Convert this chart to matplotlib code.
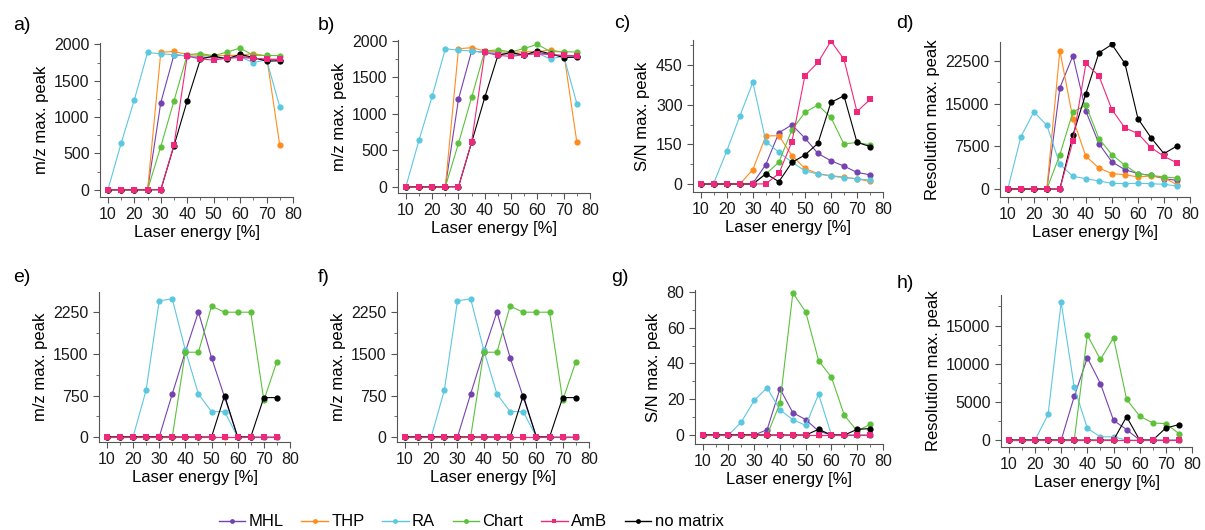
import numpy as np
import matplotlib
matplotlib.use('Agg')
import matplotlib.pyplot as plt
from matplotlib.lines import Line2D
from matplotlib.ticker import MultipleLocator, AutoMinorLocator

plt.rcParams['font.family'] = ['Liberation Sans', 'DejaVu Sans']

energy = [10, 15, 20, 25, 30, 35, 40, 45, 50, 55, 60, 65, 70, 75]

# panel a / b : m/z max. peak
mz1_mhl   = [0, 0, 0, 0, 1200, 1860, 1840, 1820, 1820, 1810, 1840, 1810, 1790, 1790]
mz1_thp   = [0, 0, 0, 0, 1890, 1905, 1860, 1850, 1840, 1850, 1850, 1875, 1840, 610]
mz1_ra    = [0, 640, 1240, 1890, 1870, 1860, 1840, 1830, 1820, 1810, 1830, 1750, 1790, 1140]
mz1_chart = [0, 0, 0, 0, 595, 1225, 1860, 1875, 1845, 1895, 1950, 1850, 1850, 1845]
mz1_none  = [0, 0, 0, 0, 0, 608, 1225, 1800, 1840, 1800, 1865, 1820, 1770, 1775]
mz1_amb   = [0, 0, 0, 0, 0, 620, 1840, 1800, 1785, 1810, 1820, 1810, 1800, 1795]

# panel c : S/N max. peak
sn1_mhl   = [0, 0, 0, 0, 3, 74, 194, 224, 174, 116, 88, 68, 44, 35]
sn1_thp   = [0, 0, 0, 0, 55, 182, 183, 108, 59, 39, 32, 26, 20, 10]
sn1_ra    = [0, 4, 126, 257, 385, 161, 120, 83, 50, 38, 30, 24, 20, 15]
sn1_chart = [0, 0, 0, 0, 0, 38, 83, 205, 271, 299, 252, 151, 158, 148]
sn1_none  = [0, 0, 0, 0, 0, 39, 9, 82, 110, 154, 309, 334, 158, 142]
sn1_amb   = [0, 0, 0, 0, 0, 1, 40, 160, 410, 460, 541, 472, 274, 320]

# panel d : Resolution max. peak
res1_mhl   = [0, 0, 0, 0, 17750, 23380, 13650, 7970, 4750, 3400, 2700, 2400, 1820, 1520]
res1_thp   = [0, 0, 0, 0, 24300, 12360, 5740, 3690, 2700, 2520, 2110, 2290, 1990, 760]
res1_ra    = [0, 9140, 13530, 11190, 4340, 2230, 1820, 1410, 1000, 940, 1000, 940, 820, 530]
res1_chart = [0, 0, 0, 0, 6030, 13530, 14710, 8850, 6030, 4160, 2640, 2400, 2110, 1930]
res1_none  = [0, 0, 0, 0, 0, 9430, 16760, 23900, 25370, 22030, 12360, 9020, 6210, 7560]
res1_amb   = [0, 0, 0, 0, 0, 8380, 22030, 19860, 13940, 10720, 9730, 7270, 5740, 4570]

# panel e / f : m/z max. peak
mz2_mhl   = [0, 0, 0, 0, 0, 778, 1540, 2260, 1435, 720, 0, 0, 0, 0]
mz2_thp   = [0, 0, 0, 0, 0, 0, 0, 0, 0, 0, 0, 0, 0, 0]
mz2_ra    = [0, 0, 0, 844, 2460, 2497, 1568, 778, 458, 458, 0, 0, 0, 0]
mz2_chart = [0, 0, 0, 0, 0, 0, 1532, 1532, 2364, 2255, 2255, 2255, 663, 1363]
mz2_none  = [0, 0, 0, 0, 0, 0, 0, 0, 0, 748, 0, 0, 712, 712]
mz2_amb   = [0, 0, 0, 0, 0, 0, 0, 0, 0, 0, 0, 0, 0, 0]

# panel g : S/N max. peak
sn2_mhl   = [0, 0, 0, 0, 0, 3, 25.8, 12.5, 8.6, 2.2, 0, 0, 0, 0]
sn2_thp   = [0, 0, 0, 0, 0, 0, 0, 0, 0, 0, 0, 0, 0, 0]
sn2_ra    = [0, 0, 0, 7.3, 19.3, 26.4, 14, 8.6, 5.4, 22.8, 0, 0, 0, 0]
sn2_chart = [0, 0, 0, 0, 0, 0, 17.8, 79.4, 68.7, 41.6, 32.2, 11, 2.2, 6]
sn2_none  = [0, 0, 0, 0, 0, 0, 0, 0, 0, 3.2, 0, 0, 3.2, 3.6]
sn2_amb   = [0, 0, 0, 0, 0, 0, 0, 0, 0, 0, 0, 0, 0, 0]

# panel h : Resolution max. peak
res2_mhl   = [0, 0, 0, 0, 0, 5730, 10780, 7410, 2590, 1380, 0, 0, 0, 0]
res2_thp   = [0, 0, 0, 0, 0, 0, 0, 0, 0, 0, 0, 0, 0, 0]
res2_ra    = [0, 0, 0, 3360, 18020, 6900, 1550, 430, 430, 0, 0, 0, 0, 0]
res2_chart = [0, 0, 0, 0, 0, 0, 13750, 10560, 13400, 5350, 3150, 2240, 2160, 860]
res2_none  = [0, 0, 0, 0, 0, 0, 0, 0, 0, 3060, 0, 0, 1590, 2030]
res2_amb   = [0, 0, 0, 0, 0, 0, 0, 0, 0, 0, 0, 0, 0, 0]

names   = ['MHL', 'THP', 'RA', 'Chart', 'AmB', 'no matrix']
colors  = ['#7443B0', '#FF8C1E', '#5CC8E0', '#5DC13C', '#F0287C', '#000000']
markers = ['o', 'o', 'o', 'o', 's', 'o']
# drawing order: MHL, THP, RA, Chart, no matrix, AmB (AmB on top)
order = [0, 1, 2, 3, 5, 4]

mz1 = [mz1_mhl, mz1_thp, mz1_ra, mz1_chart, mz1_amb, mz1_none]
sn1 = [sn1_mhl, sn1_thp, sn1_ra, sn1_chart, sn1_amb, sn1_none]
res1 = [res1_mhl, res1_thp, res1_ra, res1_chart, res1_amb, res1_none]
mz2 = [mz2_mhl, mz2_thp, mz2_ra, mz2_chart, mz2_amb, mz2_none]
sn2 = [sn2_mhl, sn2_thp, sn2_ra, sn2_chart, sn2_amb, sn2_none]
res2 = [res2_mhl, res2_thp, res2_ra, res2_chart, res2_amb, res2_none]

W, H = 1205, 530
fig = plt.figure(figsize=(W / 100, H / 100), dpi=100)

def px_axes(left, right, bottom, top):
    return fig.add_axes([left / W, 1 - bottom / H, (right - left) / W, (bottom - top) / H])

panels = [
    # label, data, pixel box (l, r, b, t), ylim, ystep, ylabel, label pos
    ('a)', mz1, (100, 293, 197, 43), (-100, 2020), 500, 'm/z max. peak', (22, 26)),
    ('b)', mz1, (398, 590, 193, 40), (-85, 2010), 500, 'm/z max. peak', (326, 26)),
    ('c)', sn1, (693, 883, 192, 40), (-30, 545), 150, 'S/N max. peak', (622, 24)),
    ('d)', res1, (1000, 1190, 197, 42), (-1400, 25800), 7500, 'Resolution max. peak', (905, 24)),
    ('e)', mz2, (99, 290, 442, 292), (-90, 2620), 750, 'm/z max. peak', (22, 277)),
    ('f)', mz2, (397, 589, 442, 292), (-90, 2620), 750, 'm/z max. peak', (324, 278)),
    ('g)', sn2, (695, 883, 444, 290), (-5, 81), 20, 'S/N max. peak', (620, 277)),
    ('h)', res2, (1001, 1192, 447, 295), (-900, 19000), 5000, 'Resolution max. peak', (905, 283)),
]

for label, data, box, ylim, ystep, ylabel, lpos in panels:
    ax = px_axes(*box)
    for i in order:
        ax.plot(energy, data[i], color=colors[i], marker=markers[i],
                markersize=4.5, linewidth=0.8, markeredgewidth=0)
    ax.set_xlim(7, 80)
    ax.set_ylim(*ylim)
    ax.xaxis.set_major_locator(MultipleLocator(10))
    ax.xaxis.set_minor_locator(MultipleLocator(5))
    ax.yaxis.set_major_locator(MultipleLocator(ystep))
    ax.yaxis.set_minor_locator(AutoMinorLocator(2))
    ax.spines['top'].set_visible(False)
    ax.spines['right'].set_visible(False)
    for s in ('left', 'bottom'):
        ax.spines[s].set_color('#555555')
        ax.spines[s].set_linewidth(0.8)
    ax.tick_params(which='both', direction='out', colors='#555555', labelcolor='#1a1a1a',
                   labelsize=11.5)
    ax.tick_params(which='major', length=4)
    ax.tick_params(which='minor', length=2)
    ax.set_xlabel('Laser energy [%]', fontsize=12, labelpad=2)
    ax.set_ylabel(ylabel, fontsize=12, labelpad=4)
    fig.text(lpos[0] / W, 1 - lpos[1] / H, label, fontsize=14, ha='center', va='center')

handles = [Line2D([0], [0], color=colors[i], marker=markers[i], markersize=3.5,
                  linewidth=1.0, markeredgewidth=0) for i in range(6)]
fig.legend(handles, names, loc='center', bbox_to_anchor=(471 / W, 1 - 522 / H), ncol=6,
           frameon=False, prop={'family': ['Liberation Sans Narrow', 'Liberation Sans'], 'size': 12},
           handlelength=1.6, columnspacing=1.05, handletextpad=0.2)

fig.savefig('out.png', dpi=100)
